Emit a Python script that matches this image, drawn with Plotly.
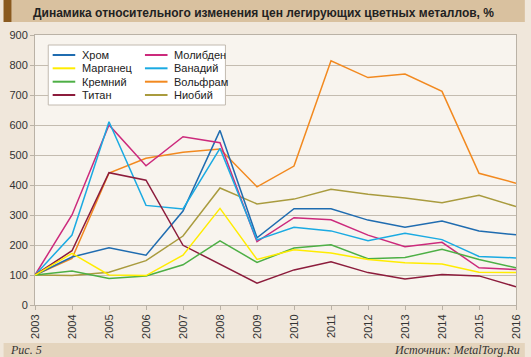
import plotly.graph_objects as go

years = list(range(2003, 2017))
names = ["Хром", "Марганец", "Кремний", "Титан", "Молибден", "Ванадий", "Вольфрам", "Ниобий"]
chrome = [100, 160, 191, 166, 313, 582, 224, 321, 321, 283, 259, 280, 247, 234]
manganese = [100, 172, 100, 98, 166, 322, 152, 184, 173, 152, 141, 137, 109, 108]
silicon = [100, 113, 88, 97, 134, 214, 142, 190, 201, 154, 158, 186, 152, 124]
titanium = [100, 181, 441, 416, 199, 135, 73, 117, 144, 108, 87, 102, 97, 61]
molybdenum = [100, 300, 600, 464, 561, 541, 211, 291, 284, 233, 194, 209, 124, 118]
vanadium = [100, 233, 611, 332, 320, 522, 217, 259, 247, 214, 239, 218, 162, 157]
tungsten = [100, 155, 440, 489, 509, 520, 394, 463, 814, 758, 770, 712, 439, 406]
niobium = [100, 98, 109, 148, 230, 390, 337, 353, 386, 369, 357, 341, 366, 328]
series = [chrome, manganese, silicon, titanium, molybdenum, vanadium, tungsten, niobium]
colors = ["#1f6cb0", "#ffec00", "#4daf45", "#8c1c3c", "#cc2a7c", "#1aaae2", "#f2891f", "#a99b3e"]

title = "Динамика относительного изменения цен легирующих цветных металлов, %"
fig_label = "Рис. 5"
source = "Источник: MetalTorg.Ru"

W, H = 531, 357
L, R, T, B = 32, 522, 35, 305


def px(x):
    return (x - L) / (R - L)


def py(y):
    return (B - y) / (B - T)


fig = go.Figure()
draw_order = [6, 7, 0, 4, 5, 3, 2, 1]
for i in draw_order:
    fig.add_trace(go.Scatter(x=years, y=series[i], mode="lines", name=names[i],
                             line=dict(color=colors[i], width=1.5), showlegend=False))

shapes = [
    dict(type="rect", xref="paper", yref="paper", x0=px(0), x1=px(W), y0=py(22), y1=py(0),
         fillcolor="#d9c19f", line=dict(width=0), layer="below"),
    dict(type="rect", xref="paper", yref="paper", x0=px(0), x1=px(8), y0=py(22), y1=py(0),
         fillcolor="#8a5a1f", line=dict(width=0), layer="below"),
    dict(type="rect", xref="paper", yref="paper", x0=px(0), x1=px(W), y0=py(H), y1=py(343),
         fillcolor="#e4d4bd", line=dict(width=0), layer="below"),
    dict(type="rect", xref="paper", yref="paper", x0=px(45.5), x1=px(226), y0=py(105), y1=py(45),
         fillcolor="white", line=dict(color="#c2bab0", width=1), layer="above"),
]
annotations = [
    dict(text="<b>" + title + "</b>", xref="paper", yref="paper", x=px(265), y=py(12.5),
         showarrow=False, font=dict(family="Liberation Sans", size=12, color="#222"),
         xanchor="center", yanchor="middle"),
    dict(text="<i>" + fig_label + "</i>", xref="paper", yref="paper", x=px(5), y=py(350),
         showarrow=False, font=dict(family="Liberation Serif", size=12, color="#333"),
         xanchor="left", yanchor="middle"),
    dict(text="<i>" + source + "</i>", xref="paper", yref="paper", x=px(528), y=py(350),
         showarrow=False, font=dict(family="Liberation Serif", size=12, color="#333"),
         xanchor="right", yanchor="middle"),
]
row_y = [55, 68.3, 81.7, 95]
for k, name in enumerate(names):
    col, row = divmod(k, 4)
    x0 = 50 if col == 0 else 144
    yy = row_y[row]
    shapes.append(dict(type="line", xref="paper", yref="paper", x0=px(x0), x1=px(x0 + 23),
                       y0=py(yy), y1=py(yy), line=dict(color=colors[k], width=2), layer="above"))
    annotations.append(dict(text=name, xref="paper", yref="paper", x=px(x0 + 28), y=py(yy),
                            showarrow=False, xanchor="left", yanchor="middle",
                            font=dict(family="Liberation Sans", size=11, color="#222")))

fig.update_layout(
    width=W, height=H,
    margin=dict(l=L, r=W - R, t=T, b=H - B),
    paper_bgcolor="#f0e7db",
    plot_bgcolor="#f8f4ee",
    shapes=shapes,
    annotations=annotations,
    font=dict(family="Liberation Sans", size=11, color="#333"),
    xaxis=dict(range=[2003, 2016], tickvals=years, tickangle=-90, showgrid=False,
               showline=True, linecolor="#bab2a6", linewidth=1, mirror=True,
               ticks="outside", ticklen=4, tickcolor="#bab2a6", zeroline=False,
               tickfont=dict(size=11, color="#333")),
    yaxis=dict(range=[0, 900], dtick=100, showgrid=True, gridcolor="#c4bcb0", gridwidth=1,
               showline=True, linecolor="#bab2a6", linewidth=1, mirror=True,
               ticks="outside", ticklen=4, tickcolor="#bab2a6", zeroline=False,
               tickfont=dict(size=11, color="#333")),
)

fig.write_html("out.html", config={"displayModeBar": False},
               post_script="document.body.style.margin='0';document.body.style.padding='0';"
                           "document.body.style.overflow='hidden';")
